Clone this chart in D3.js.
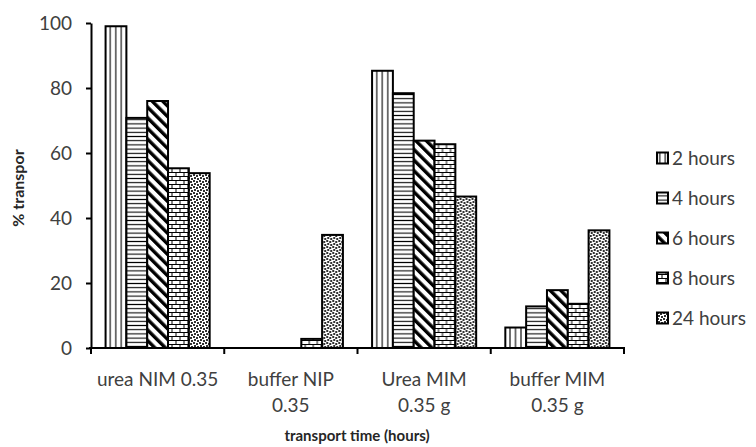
<!DOCTYPE html>
<html>
<head>
<meta charset="utf-8">
<script src="https://cdn.jsdelivr.net/npm/d3@7"></script>
<style>
  body { margin: 0; background: #fff; }
  text { font-family: Lato, "Open Sans", sans-serif; }
</style>
</head>
<body>
<svg id="chart" width="756" height="447"></svg>
<script>
const categories = ['urea NIM 0.35', 'buffer NIP 0.35', 'Urea MIM 0.35 g', 'buffer MIM 0.35 g'];
const categoryLines = [['urea NIM 0.35'], ['buffer NIP', '0.35'], ['Urea MIM', '0.35 g'], ['buffer MIM', '0.35 g']];
const series = ['2 hours', '4 hours', '6 hours', '8 hours', '24 hours'];
const h2 = [99, 0, 85.3, 6.3];
const h4 = [70.8, 0, 78.4, 12.8];
const h6 = [76, 0, 63.8, 17.8];
const h8 = [55.3, 2.8, 62.7, 13.6];
const h24 = [53.8, 34.8, 46.6, 36.2];
const yTicks = [0, 20, 40, 60, 80, 100];
const values = [h2, h4, h6, h8, h24];

const svg = d3.select('#chart');
const defs = svg.append('defs');

// fill patterns, one per series
const pat = (id, w, h, draw, tf) => {
  const p = defs.append('pattern')
    .attr('id', id)
    .attr('patternUnits', 'userSpaceOnUse')
    .attr('width', w)
    .attr('height', h);
  if (tf) p.attr('patternTransform', tf);
  p.append('rect').attr('width', w).attr('height', h).attr('fill', '#fff');
  draw(p);
};
pat('p0', 5.5, 5.5, p => p.append('line')
  .attr('x1', 2.75).attr('x2', 2.75).attr('y1', 0).attr('y2', 5.5)
  .attr('stroke', '#000').attr('stroke-width', 1.1));
pat('p1', 4.2, 4.2, p => p.append('line')
  .attr('y1', 2.1).attr('y2', 2.1).attr('x1', 0).attr('x2', 4.2)
  .attr('stroke', '#000').attr('stroke-width', 1.1));
pat('p2', 7.5, 7.5, p => p.append('rect')
  .attr('x', 0).attr('y', 0).attr('width', 3.4).attr('height', 7.5)
  .attr('fill', '#000'), 'rotate(-45)');
pat('p3', 8, 8, p => {
  p.append('line').attr('x1', 0).attr('x2', 8).attr('y1', 0.5).attr('y2', 0.5);
  p.append('line').attr('x1', 0).attr('x2', 8).attr('y1', 4.5).attr('y2', 4.5);
  p.append('line').attr('x1', 1).attr('x2', 1).attr('y1', 0).attr('y2', 4);
  p.append('line').attr('x1', 5).attr('x2', 5).attr('y1', 4).attr('y2', 8);
  p.selectAll('line').attr('stroke', '#000').attr('stroke-width', 1);
});
pat('p4', 6, 6, p => {
  [[1, 1], [4, 2], [2, 4], [5, 5]].forEach(([cx, cy]) =>
    p.append('rect').attr('x', cx - 0.9).attr('y', cy - 0.9)
      .attr('width', 1.8).attr('height', 1.8).attr('fill', '#000'));
});

const x0 = d3.scaleBand().domain(categories).range([91, 624]).paddingInner(0).paddingOuter(0);
const x1 = d3.scaleBand().domain(series).range([0, x0.bandwidth()]).paddingInner(0).paddingOuter(0.7);
const y = d3.scaleLinear().domain([0, 100]).range([348, 23]);

// bars
const groups = svg.append('g').selectAll('g')
  .data(categories)
  .join('g')
    .attr('transform', d => `translate(${x0(d)},0)`);

groups.selectAll('rect')
  .data((d, i) => series.map((s, j) => ({ s, j, v: values[j][i] })).filter(e => e.v > 0))
  .join('rect')
    .attr('x', d => x1(d.s))
    .attr('y', d => y(d.v))
    .attr('width', x1.bandwidth())
    .attr('height', d => y(0) - y(d.v))
    .attr('fill', d => `url(#p${d.j})`)
    .attr('stroke', '#000')
    .attr('stroke-width', 2);

// y axis
const yAxis = svg.append('g')
  .attr('transform', 'translate(91,0)')
  .call(d3.axisLeft(y).tickValues(yTicks).tickSize(5).tickPadding(14).tickSizeOuter(0));
yAxis.select('.domain').attr('stroke', '#000').attr('stroke-width', 2);
yAxis.selectAll('.tick line').attr('stroke', '#000').attr('stroke-width', 2);
yAxis.selectAll('.tick text')
  .attr('font-size', 19).attr('fill', '#404040')
  .style('font-family', 'Lato, sans-serif');

// x axis with ticks at category edges
const xg = svg.append('g');
xg.append('line')
  .attr('x1', 89).attr('x2', 625).attr('y1', 348).attr('y2', 348)
  .attr('stroke', '#000').attr('stroke-width', 2);
const edges = categories.map(c => x0(c)).concat([x0.range()[1]]);
xg.selectAll('line.t')
  .data(edges)
  .join('line')
    .attr('class', 't')
    .attr('x1', d => d).attr('x2', d => d)
    .attr('y1', 348).attr('y2', 354)
    .attr('stroke', '#000').attr('stroke-width', 2);

xg.selectAll('text.cat')
  .data(categories)
  .join('text')
    .attr('class', 'cat')
    .attr('x', d => x0(d) + x0.bandwidth() / 2)
    .attr('y', 386)
    .attr('text-anchor', 'middle')
    .attr('font-size', 19)
    .attr('fill', '#404040')
    .each(function (d, i) {
      const t = d3.select(this);
      categoryLines[i].forEach((line, k) => {
        t.append('tspan')
          .attr('x', x0(d) + x0.bandwidth() / 2)
          .attr('dy', k === 0 ? 0 : 26)
          .text(line);
      });
    });

// axis titles
svg.append('text')
  .attr('x', 357).attr('y', 441)
  .attr('text-anchor', 'middle')
  .attr('font-size', 15).attr('font-weight', 'bold')
  .attr('fill', '#262626')
  .text('transport time (hours)');

svg.append('text')
  .attr('transform', 'translate(24,188) rotate(-90)')
  .attr('text-anchor', 'middle')
  .attr('font-size', 16).attr('font-weight', 'bold')
  .attr('fill', '#262626')
  .text('% transpor');

// legend
const legend = svg.append('g').selectAll('g')
  .data(series)
  .join('g')
    .attr('transform', (d, i) => `translate(657,${158 + i * 40})`);
legend.append('rect')
  .attr('x', 0).attr('y', -5.5)
  .attr('width', 11).attr('height', 11)
  .attr('fill', (d, i) => `url(#p${i})`)
  .attr('stroke', '#000').attr('stroke-width', 2);
legend.append('text')
  .attr('x', 15).attr('y', 0)
  .attr('dy', '0.36em')
  .attr('font-size', 19)
  .attr('fill', '#404040')
  .text(d => d);
</script>
</body>
</html>
